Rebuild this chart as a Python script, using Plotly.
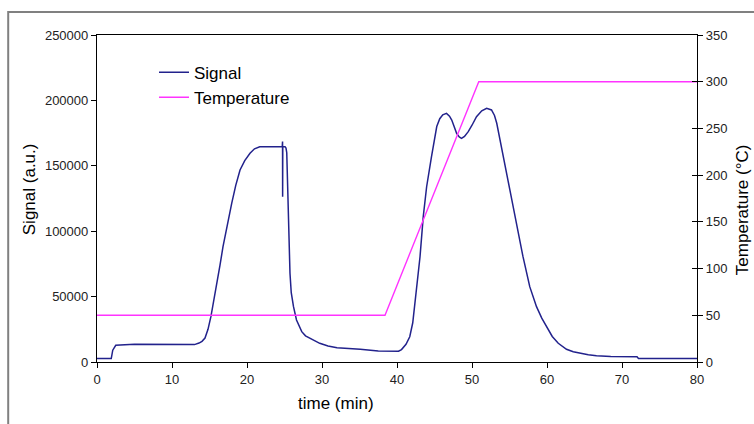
import plotly.graph_objects as go

# Detector signal trace (time in min, signal in arbitrary units)
time_min = [0, 1.9, 2.1, 2.5, 5.0, 8.0, 11.0, 13.0, 13.6, 14.0, 14.4, 14.8, 15.2, 15.6,
            16.0, 16.4, 16.8, 17.4, 17.96, 18.5, 19.07, 19.7, 20.4, 21.0, 21.7, 24.7,
            24.74, 24.75, 24.77, 25.07, 25.2, 25.3, 25.4, 25.6, 25.73, 25.9, 26.2, 26.6,
            27.0, 27.3, 27.8, 28.4, 29.0, 29.7, 30.8, 32.0, 35.1, 37.5, 40.2, 40.6, 41.2,
            41.7, 42.1, 42.4, 42.75, 43.07, 43.5, 43.95, 44.6, 45.3, 45.7, 46.1, 46.6,
            47.0, 47.3, 47.7, 47.95, 48.3, 48.6, 49.0, 49.5, 50.0, 50.6, 51.3, 51.95,
            52.6, 53.0, 53.3, 53.7, 54.2, 55.1, 55.95, 56.8, 57.7, 58.6, 59.3, 59.95,
            60.7, 61.5, 62.6, 63.5, 64.4, 65.5, 66.6, 68.5, 72.0, 72.2, 80.0]
signal = [2600, 2600, 9000, 12800, 13600, 13300, 13000, 13300, 14500, 15800, 18300, 25000,
          35000, 47000, 60000, 74000, 88150, 106000, 121300, 135000, 146800, 154000,
          159600, 163000, 164600, 164600, 168500, 126400, 164600, 164600, 163500, 160000,
          134000, 88150, 67800, 53000, 42300, 32100, 26500, 23200, 20000, 18100, 16000,
          14300, 12300, 10900, 9700, 8400, 8200, 9500, 13500, 19300, 30000, 44900, 62000,
          80500, 111100, 134000, 157000, 180000, 186000, 189000, 190100, 188000, 185000,
          178000, 174800, 172000, 171000, 172500, 176100, 181000, 187500, 192000, 194000,
          192700, 188500, 182500, 171000, 157000, 131500, 106000, 80500, 57600, 42300,
          33500, 27000, 19500, 14300, 9700, 7800, 6600, 5500, 4800, 4300, 4000, 2600, 2600]

# Oven temperature program
temp_time = [0, 38.4, 50.9, 80]
temperature = [50, 50, 300, 300]

x_ticks = [0, 10, 20, 30, 40, 50, 60, 70, 80]
signal_ticks = [0, 50000, 100000, 150000, 200000, 250000]
temp_ticks = [0, 50, 100, 150, 200, 250, 300, 350]

font_family = "Liberation Sans, Arial, sans-serif"
title_font = dict(family=font_family, size=17, color="black")

fig = go.Figure()
fig.add_trace(go.Scatter(x=time_min, y=signal, mode="lines", name="Signal",
                         line=dict(color="#22228c", width=1.5)))
fig.add_trace(go.Scatter(x=temp_time, y=temperature, mode="lines", name="Temperature",
                         yaxis="y2", line=dict(color="#ff33ff", width=1.4)))

axis_common = dict(showgrid=False, zeroline=False, showline=True, linecolor="black",
                   linewidth=1.2, ticks="outside", ticklen=5, tickcolor="black",
                   tickfont=dict(family=font_family, size=13, color="#222"))

fig.update_layout(
    width=754, height=424,
    margin=dict(l=97, r=57, t=35, b=62),
    paper_bgcolor="white", plot_bgcolor="white",
    font=dict(family=font_family, color="black"),
    xaxis=dict(range=[0, 80], tickvals=x_ticks, mirror=True, **axis_common),
    yaxis=dict(range=[0, 250000], tickvals=signal_ticks,
               ticktext=[str(v) for v in signal_ticks], **axis_common),
    yaxis2=dict(range=[0, 350], tickvals=temp_ticks, overlaying="y", side="right",
                **axis_common),
    yaxis3=dict(range=[0, 350], tickvals=temp_ticks, overlaying="y", side="right",
                showgrid=False, zeroline=False, showline=False, ticks="inside",
                ticklen=5, tickcolor="black", showticklabels=False),
    legend=dict(x=0.095, y=0.94, xanchor="left", yanchor="top",
                bgcolor="rgba(0,0,0,0)", font=dict(size=17, family=font_family),
                itemwidth=30, tracegroupgap=2),
    showlegend=True,
    annotations=[
        dict(text="time (min)", xref="paper", yref="paper", x=0.398, y=-0.128,
             showarrow=False, font=title_font, xanchor="center", yanchor="middle"),
        dict(text="Signal (a.u.)", xref="paper", yref="paper", x=-0.113, y=0.529,
             showarrow=False, font=title_font, textangle=-90,
             xanchor="center", yanchor="middle"),
        dict(text="Temperature (°C)", xref="paper", yref="paper", x=1.077, y=0.465,
             showarrow=False, font=title_font, textangle=-90,
             xanchor="center", yanchor="middle"),
    ],
    shapes=[dict(type="rect", xref="paper", yref="paper",
                 x0=-0.148, x1=1.3, y0=-0.4, y1=1.07,
                 line=dict(color="#808080", width=2), fillcolor="rgba(0,0,0,0)",
                 layer="below")],
)

# Invisible trace to carry the inward right-axis ticks
fig.add_trace(go.Scatter(x=[0], y=[0], yaxis="y3", mode="lines", showlegend=False,
                         hoverinfo="skip", line=dict(color="rgba(0,0,0,0)")))

fig.write_html("out.html")
